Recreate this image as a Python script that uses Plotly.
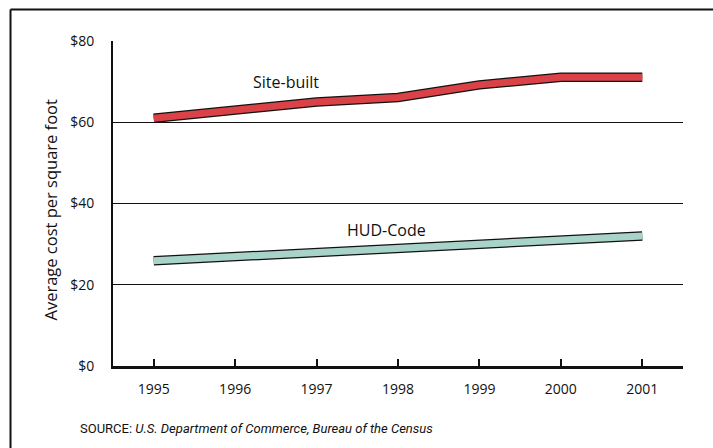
import plotly.graph_objects as go

years = [1995, 1996, 1997, 1998, 1999, 2000, 2001]
site_built = [61.0, 63.0, 65.0, 66.1, 69.2, 71.1, 71.1]
hud_code = [25.9, 26.9, 27.9, 28.9, 29.9, 30.9, 32.0]
y_ticks = [0, 20, 40, 60, 80]
y_tick_labels = ["$0", "$20", "$40", "$60", "$80"]

RED = "#db4247"
TEAL = "#a7d3c8"
FONT = "Open Sans"

fig = go.Figure()
for vals, col in [(site_built, RED), (hud_code, TEAL)]:
    fig.add_trace(go.Scatter(x=years, y=vals, mode="lines",
                             line=dict(color="#111111", width=9.5),
                             hoverinfo="skip", showlegend=False))
    fig.add_trace(go.Scatter(x=years, y=vals, mode="lines",
                             line=dict(color=col, width=7),
                             showlegend=False))

fig.update_layout(
    width=713, height=448,
    margin=dict(l=113, r=30, t=41, b=82),
    paper_bgcolor="white", plot_bgcolor="white",
    font=dict(family=FONT, color="#111111"),
    xaxis=dict(range=[1994.5, 2001.5], tickmode="array", tickvals=years,
               ticktext=[str(y) for y in years],
               showgrid=False, zeroline=False,
               showline=True, linecolor="#111111", linewidth=2.5,
               ticks="inside", ticklen=7, tickwidth=2, tickcolor="#111111",
               tickfont=dict(size=14, family=FONT), ticklabelstandoff=8),
    yaxis=dict(range=[0, 80], tickmode="array", tickvals=y_ticks,
               ticktext=y_tick_labels,
               showgrid=True, gridcolor="#111111", gridwidth=1,
               zeroline=False,
               showline=True, linecolor="#111111", linewidth=2,
               ticks="", tickfont=dict(size=14, family=FONT),
               ticklabelstandoff=14),
    annotations=[
        dict(x=1996.63, y=69.9, xref="x", yref="y", text="Site-built",
             showarrow=False, font=dict(size=16, family=FONT)),
        dict(x=1997.86, y=33.5, xref="x", yref="y", text="HUD-Code",
             showarrow=False, font=dict(size=16, family=FONT)),
        dict(x=-0.135, y=0.48, xref="paper", yref="paper",
             text="Average cost per square foot", textangle=-90,
             showarrow=False, font=dict(size=16.5, family=FONT)),
        dict(x=-0.0614, y=-0.191, xref="paper", yref="paper",
             xanchor="left", yanchor="middle",
             text="SOURCE: <i>U.S. Department of Commerce, Bureau of the Census</i>",
             showarrow=False,
             font=dict(size=13, family="Liberation Sans Narrow, Roboto")),
    ],
    shapes=[
        dict(type="line", xref="paper", yref="paper",
             x0=-0.1798, x1=1.1, y0=1.0969, y1=1.0969,
             line=dict(color="#111111", width=2)),
        dict(type="line", xref="paper", yref="paper",
             x0=-0.1798, x1=-0.1798, y0=1.0969, y1=-0.3,
             line=dict(color="#111111", width=2)),
    ],
)

fig.write_html("out.html", config={"displayModeBar": False},
               post_script="document.body.style.margin='0';")
